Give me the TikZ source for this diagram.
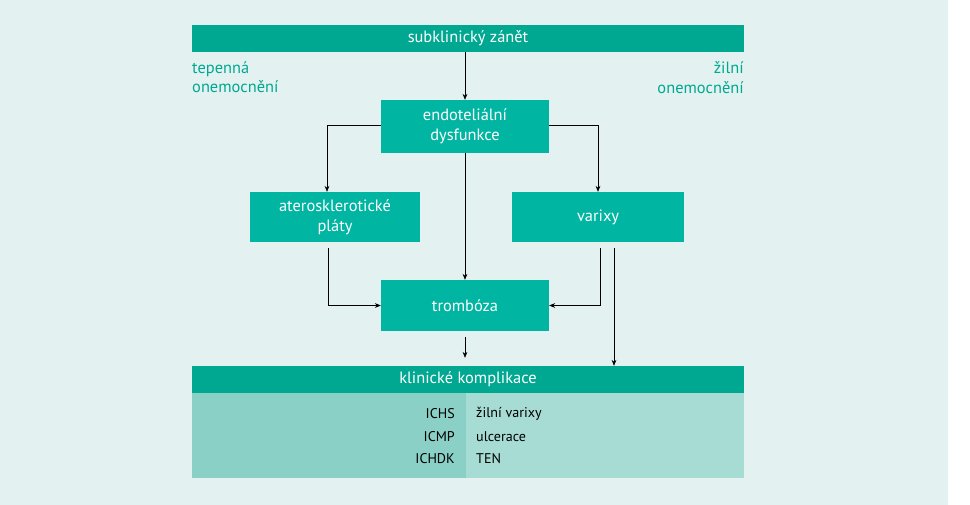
\documentclass[tikz,border=0pt]{standalone}
\usepackage{fontspec}
\setmainfont{PT Sans}
\usepackage{tikz}
\usetikzlibrary{positioning,arrows.meta}
\definecolor{bgteal}{HTML}{E3F2F1}
\definecolor{darkteal}{HTML}{00A891}
\definecolor{boxteal}{HTML}{00B5A2}
\definecolor{celldark}{HTML}{8BD0C6}
\definecolor{celllight}{HTML}{A7DCD4}

\begin{document}
\begin{tikzpicture}[x=0.03cm,y=-0.03cm,
	bar/.style={fill=darkteal,text=white,inner sep=0pt,font=\fontsize{14}{16}\selectfont},
	block/.style={fill=boxteal,text=white,align=center,inner sep=0pt,font=\fontsize{14}{17}\selectfont},
	side/.style={text=darkteal,inner sep=0pt,font=\fontsize{14}{17}\selectfont},
	cell/.style={inner sep=0pt,font=\fontsize{12}{15.5}\selectfont},
	link/.style={-{Stealth[length=5pt,width=4pt]},line width=0.5pt}]
	\fill[white] (0,0) rectangle (970,505);
	\fill[bgteal] (0,0) rectangle (948,505);
	\useasboundingbox (0,0) rectangle (970,505);

	%% bars and boxes
	\node[bar,minimum width=552*0.03cm,minimum height=27*0.03cm] (zanet) at (468,38.5) {subklinický zánět};
	\node[side,anchor=north west,align=left] (tep) at (192,61) {tepenná\\onemocnění};
	\node[side,anchor=north east,align=right] (zil) at (744,61) {žilní\\onemocnění};
	\node[block,minimum width=168*0.03cm,minimum height=53*0.03cm] (endo) at (465,126.5) {endoteliální\\dysfunkce};
	\node[block,minimum width=170*0.03cm,minimum height=50*0.03cm] (ater) at (335,217) {aterosklerotické\\pláty};
	\node[block,minimum width=172*0.03cm,minimum height=50*0.03cm] (varix) at (598,217) {varixy};
	\node[block,minimum width=168*0.03cm,minimum height=51*0.03cm] (tromb) at (465,305.5) {trombóza};
	\node[bar,minimum width=552*0.03cm,minimum height=27*0.03cm] (klin) at (468,379.5) {klinické komplikace};

	%% table
	\fill[celldark] (192,393) rectangle (466,478);
	\fill[celllight] (466,393) rectangle (744,478);
	\node[cell,anchor=east] (ichs) at (455,414) {ICHS};
	\node[cell,anchor=east] (icmp) at (455,436.5) {ICMP};
	\node[cell,anchor=east] (ichdk) at (455,459) {ICHDK};
	\node[cell,anchor=west] (zv) at (476,414) {žilní varixy};
	\node[cell,anchor=west] (ulc) at (476,436.5) {ulcerace};
	\node[cell,anchor=west] (ten) at (476,459) {TEN};

	%% connectors
	\coordinate (a1) at (327,125);
	\coordinate (a2) at (598,125);
	\coordinate (b1) at (328,248);
	\coordinate (b2) at (600,248);
	\coordinate (b3) at (614,248);
	\draw[link] (zanet.south -| endo.north) -- (endo.north);
	\draw[link] (endo.west |- a1) -- (a1) -- (a1 |- ater.north);
	\draw[link] (endo.east |- a2) -- (a2) -- (a2 |- varix.north);
	\draw[link] (endo.south) -- (tromb.north);
	\draw[link] (b1) -- (b1 |- tromb.west) -- (tromb.west);
	\draw[link] (b2) -- (b2 |- tromb.east) -- (tromb.east);
	\draw[link] (b3) -- (b3 |- klin.north);
	\draw[link] ([yshift=-6*0.03cm]tromb.south) -- ([yshift=8*0.03cm]tromb.south |- klin.north);
\end{tikzpicture}
\end{document}
